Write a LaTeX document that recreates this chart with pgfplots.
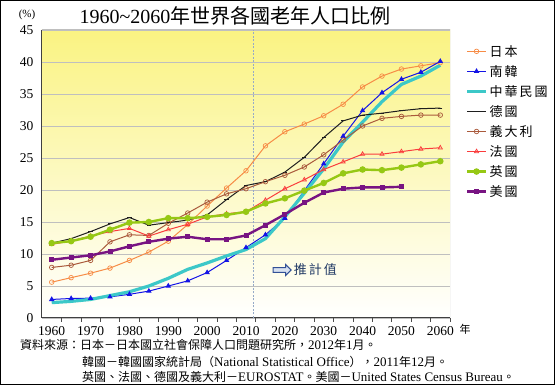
\documentclass[border=0pt]{standalone}
\usepackage{fontspec}
\setmainfont{Liberation Serif}
\newfontfamily\cjk{Noto Sans CJK TC}
\usepackage{pgfplots}
\usepackage{pgfplotstable}
\pgfplotsset{compat=1.18}
\usetikzlibrary{shapes.arrows}
\definecolor{cjp}{RGB}{247,140,70}
\definecolor{ckr}{RGB}{20,20,230}
\definecolor{ctw}{RGB}{60,200,200}
\definecolor{cde}{RGB}{30,30,30}
\definecolor{cit}{RGB}{170,90,60}
\definecolor{cfr}{RGB}{250,60,60}
\definecolor{cuk}{RGB}{150,200,20}
\definecolor{cus}{RGB}{120,20,130}
\definecolor{bgtop}{RGB}{250,243,130}
\definecolor{bgmid}{RGB}{252,249,195}
\definecolor{navy}{RGB}{31,56,100}
\pgfplotstableread{
year jp kr tw de it fr uk us
1960 5.6 2.9 2.4 11.7 7.9 11.5 11.7 9.1
1965 6.3 3.05 2.6 12.4 8.25 12.05 12.0 9.45
1970 7.0 3.1 2.9 13.5 9.0 12.8 12.7 9.8
1975 7.8 3.3 3.5 14.7 11.9 13.5 13.8 10.4
1980 9.0 3.7 4.1 15.7 13.0 14.0 14.9 11.2
1985 10.3 4.2 5.0 14.5 12.9 12.8 15.0 11.9
1990 12.0 5.0 6.2 14.9 14.8 13.8 15.6 12.4
1995 14.6 5.8 7.6 15.3 16.4 14.65 15.6 12.7
2000 17.5 7.1 8.6 16.1 18.1 15.8 15.8 12.3
2005 20.3 9.0 9.7 18.5 19.4 16.3 16.1 12.3
2010 23.0 11.0 10.7 20.7 20.2 16.6 16.6 12.9
2015 26.9 13.0 12.4 21.3 21.3 18.4 17.9 14.5
2020 29.1 15.6 15.8 22.8 22.3 20.2 18.7 16.2
2025 30.3 19.9 19.5 25.1 23.6 21.6 19.9 18.0
2030 31.6 24.1 23.3 28.2 25.5 23.2 21.1 19.6
2035 33.4 28.4 27.5 30.8 27.8 24.4 22.6 20.2
2040 36.1 32.4 30.6 31.7 30.0 25.6 23.2 20.4
2045 37.8 35.2 33.8 32.0 31.2 25.6 23.1 20.4
2050 38.9 37.3 36.5 32.4 31.5 26.0 23.5 20.5
2055 39.4 38.4 37.8 32.7 31.7 26.4 24.0 nan
2060 39.9 40.1 39.5 32.8 31.7 26.6 24.5 nan
}\data
\newcommand{\gap}{\hspace{2pt}}
\newcommand{\cj}[1]{{\cjk\fontsize{12}{12}\selectfont #1}}
\begin{document}
\begin{tikzpicture}
\useasboundingbox (0pt,0pt) rectangle (555pt,386pt);
\fill[white] (0pt,0pt) rectangle (555pt,386pt);
\draw[line width=1.4pt] (0.7pt,1.5pt) rectangle (554.3pt,385.3pt);
\begin{axis}[at={(42pt,68pt)}, anchor=south west, scale only axis,
  width=408pt, height=288pt,
  xmin=1957.5, xmax=2062.5, ymin=0, ymax=45,
  xtick={1960,1970,...,2060},
  minor xtick={1962.5,1967.5,...,2062.5},
  ytick={0,5,...,45},
  major tick length=0pt, minor tick length=4pt, tick align=outside,
  minor tick style={black!70, line width=0.6pt},
  axis x line*=bottom, axis y line*=left,
  axis line style={black!75, line width=1pt, -},
  ymajorgrids, grid style={black!25, line width=0.8pt},
  axis background/.style={shade, top color=bgtop, middle color=bgmid, bottom color=white, draw=none},
  ticklabel style={font=\fontsize{13.5}{14}\selectfont},
  /pgf/number format/1000 sep={},
  /pgf/number format/assume math mode=true,
  xticklabel style={yshift=-5pt},
  yticklabel style={xshift=-5pt},
  legend style={at={(1.03,0.962)}, anchor=north west, draw=none, fill=none,
    font=\fontsize{13}{14}\selectfont\cjk, cells={anchor=west}, row sep=3.6pt},
  legend image code/.code={\draw[mark repeat=2,mark phase=2,#1] plot coordinates {(0pt,0pt)(9.5pt,0pt)(19pt,0pt)};},
]
\draw[black!25, line width=1pt] (rel axis cs:0,1) -- (rel axis cs:1,1) -- (rel axis cs:1,0);
\draw[color={rgb,255:red,150;green,170;blue,200}, dash pattern=on 2pt off 1.5pt, line width=0.9pt] (axis cs:2011.8,0) -- (axis cs:2011.8,45);
\addplot[cjp, line width=1pt, mark=o, mark size=2.3pt, mark options={fill=white, line width=0.7pt}] table[x=year,y=jp]{\data};
\addlegendentry{日\gap 本}
\addplot[ckr, line width=1pt, mark=triangle*, mark size=2.2pt] table[x=year,y=kr]{\data};
\addlegendentry{南\gap 韓}
\addplot[ctw, line width=3.2pt] table[x=year,y=tw]{\data};
\addlegendentry{中\gap 華\gap 民\gap 國}
\addplot[cde, line width=1pt, mark=-, mark size=2.2pt] table[x=year,y=de]{\data};
\addlegendentry{德\gap 國}
\addplot[cit, line width=1pt, mark=o, mark size=2.3pt, mark options={fill=white, line width=0.7pt}] table[x=year,y=it]{\data};
\addlegendentry{義\gap 大\gap 利}
\addplot[cfr, line width=1pt, mark=triangle, mark size=2.4pt, mark options={line width=0.7pt}] table[x=year,y=fr]{\data};
\addlegendentry{法\gap 國}
\addplot[cuk, line width=2.4pt, mark=*, mark size=2pt] table[x=year,y=uk]{\data};
\addlegendentry{英\gap 國}
\addplot[cus, line width=2.4pt, mark=square*, mark size=1.3pt] table[x=year,y=us]{\data};
\addlegendentry{美\gap 國}
\node[single arrow, draw={rgb,255:red,50;green,80;blue,150}, fill={rgb,255:red,215;green,225;blue,240}, line width=1pt, minimum height=18pt, minimum width=11pt, single arrow head extend=2pt, inner sep=1pt] at (axis cs:2019,7.5) {};
\node[text=navy, font=\fontsize{13}{14}\selectfont\cjk, anchor=west] at (axis cs:2021.4,7.5) {推\gap 計\gap 值};
\end{axis}
\node at (235pt,370pt) {\fontsize{20}{21}\selectfont 1960\textasciitilde 2060{\cjk 年世界各國老年人口比例}};
\node at (27pt,371pt) {\fontsize{11}{12}\selectfont (\%)};
\node at (465pt,57pt) {\fontsize{11}{12}\selectfont\cjk 年};
\node[anchor=west, inner sep=0pt] at (20pt,41pt) {\fontsize{13}{13}\selectfont\cj{資料來源：日本－日本國立社會保障人口問題研究所，}2012\cj{年}1\cj{月。}};
\node[anchor=west, inner sep=0pt] at (82pt,24.5pt) {\fontsize{13}{13}\selectfont\cj{韓國－韓國國家統計局（}National Statistical Office\cj{），}2011\cj{年}12\cj{月。}};
\node[anchor=west, inner sep=0pt] at (82pt,9.5pt) {\fontsize{13}{13}\selectfont\cj{英國、法國、德國及義大利－}EUROSTAT\cj{。美國－}United States Census Bureau\cj{。}};
\end{tikzpicture}
\end{document}
